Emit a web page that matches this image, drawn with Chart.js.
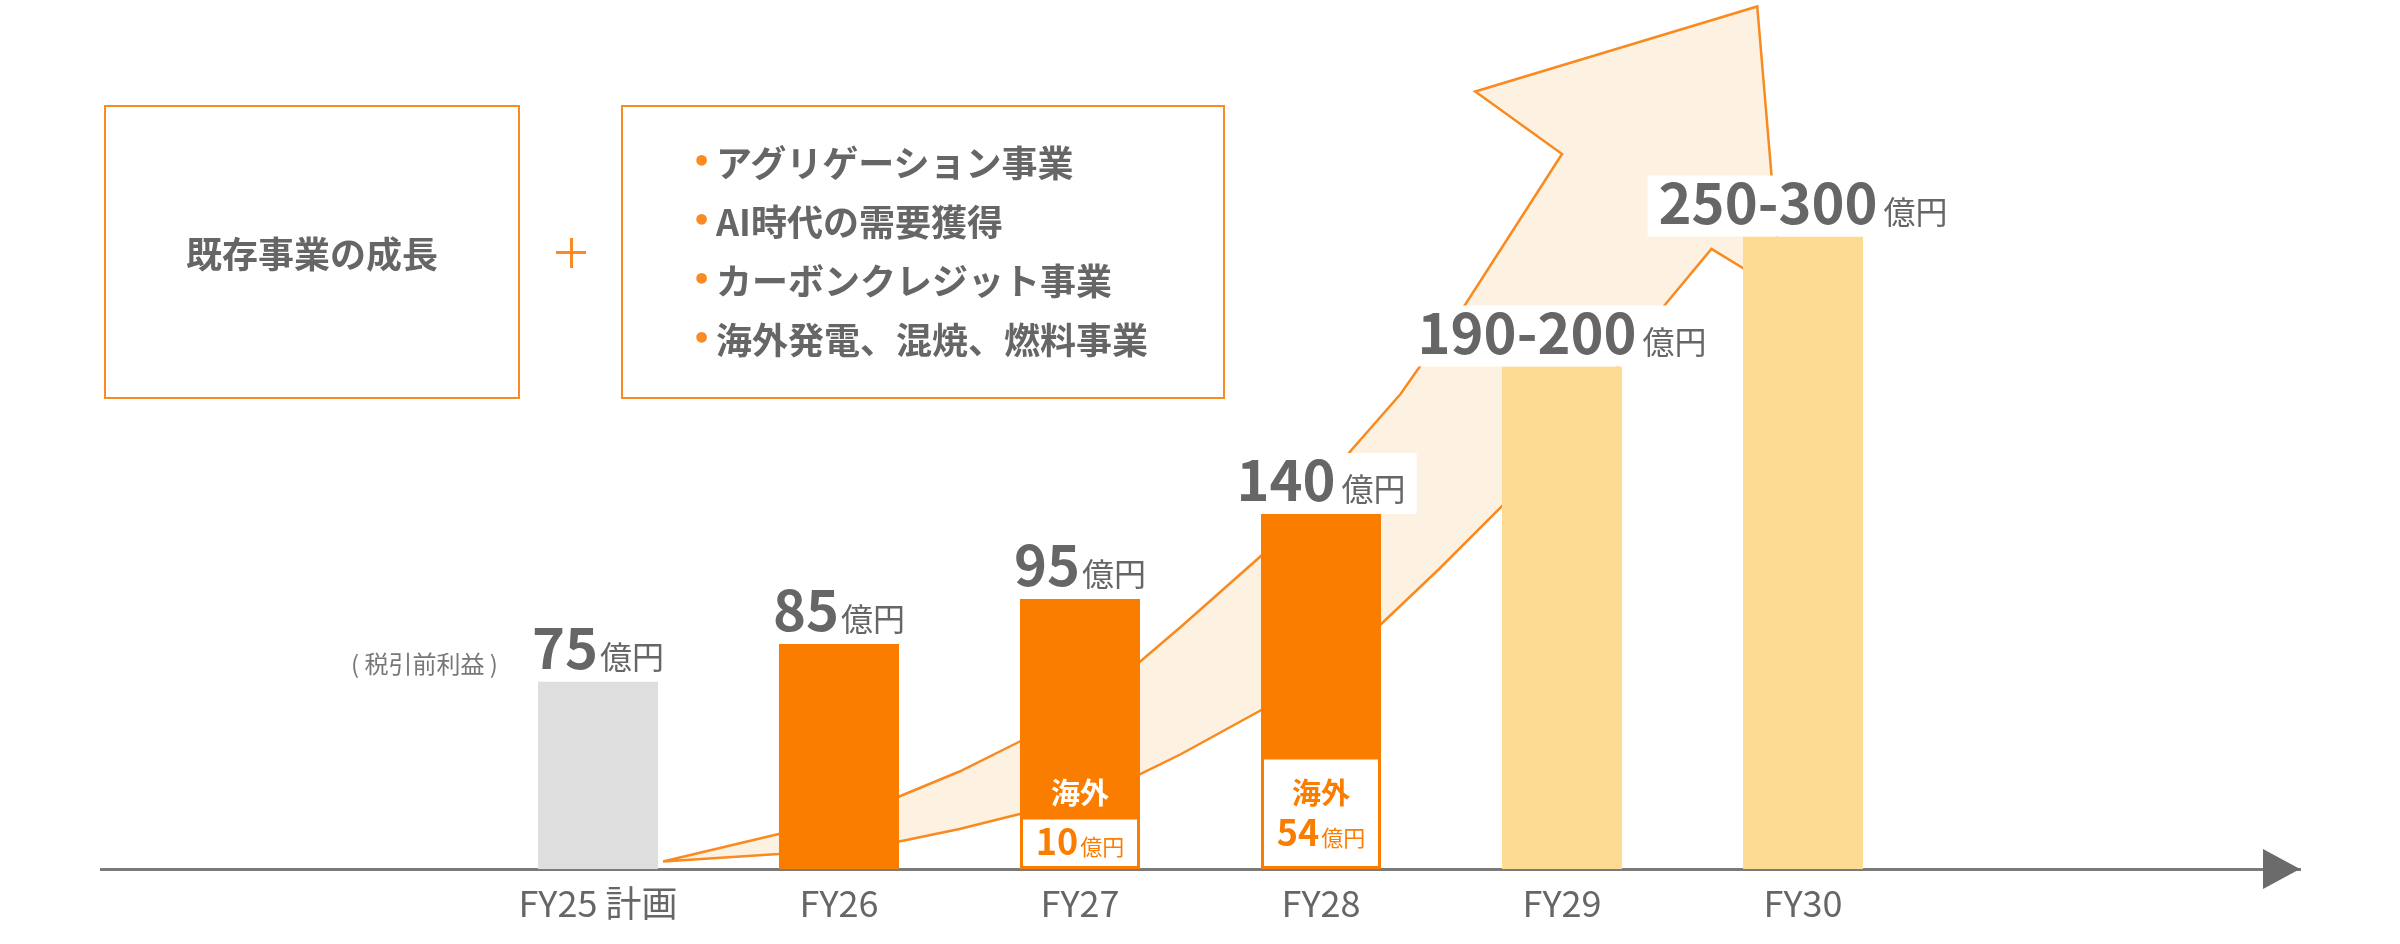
<!DOCTYPE html>
<html lang="ja">
<head>
    <meta charset="UTF-8">
    <title>税引前利益の成長イメージ</title>
    <script src="https://cdn.jsdelivr.net/npm/chart.js"></script>
    <style>
        body {
            margin: 0;
            background: #fff;
            font-family: 'Noto Sans CJK JP', 'Noto Sans', sans-serif;
        }
        .wrap {
            position: relative;
            width: 2400px;
            height: 944px;
        }
        #growthChart {
            position: absolute;
            left: 0;
            top: 0;
        }
        .box {
            position: absolute;
            top: 105px;
            height: 294px;
            border: 2px solid #f98b22;
            box-sizing: border-box;
            color: #666;
            font-weight: bold;
        }
        .box1 {
            left: 104px;
            width: 416px;
            display: flex;
            align-items: center;
            justify-content: center;
            font-size: 36px;
        }
        .box2 {
            left: 621px;
            width: 604px;
        }
        .box2 ul {
            list-style: none;
            margin: 0;
            padding: 0;
            position: absolute;
            top: 25px;
            left: 93px;
        }
        .box2 li {
            position: relative;
            font-size: 36px;
            line-height: 59px;
            white-space: nowrap;
        }
        .box2 li .dot {
            position: absolute;
            left: -24px;
            top: 0;
            color: #f98b22;
            font-size: 30px;
            font-family: 'DejaVu Sans', sans-serif;
        }
        .plus-h, .plus-v {
            position: absolute;
            background: #f98b22;
        }
        .plus-h { left: 556px; top: 251px; width: 30px; height: 3px; }
        .plus-v { left: 570px; top: 238px; width: 3px; height: 30px; }
    </style>
</head>
<body>
    <div class="wrap">
        <canvas id="growthChart" width="2400" height="944"></canvas>
        <div class="box box1">既存事業の成長</div>
        <div class="plus-h"></div>
        <div class="plus-v"></div>
        <div class="box box2">
            <ul>
                <li><span class="dot">•</span>アグリゲーション事業</li>
                <li><span class="dot">•</span>AI時代の需要獲得</li>
                <li><span class="dot">•</span>カーボンクレジット事業</li>
                <li><span class="dot">•</span>海外発電、混焼、燃料事業</li>
            </ul>
        </div>
    </div>

    <script>
        // データ (棒の高さは図から読み取った見た目の高さ、ラベルは図中の数値)
        const categories = ['FY25 計画', 'FY26', 'FY27', 'FY28', 'FY29', 'FY30'];
        const profitLabels = ['75', '85', '95', '140', '190-200', '250-300'];
        const barHeights = [75, 90, 108, 142, 201, 253];
        const overseasHeights = [null, null, 21, 45, null, null];
        const overseasLabels = [null, null, '10', '54', null, null];
        const unitLabel = '億円';
        const overseasName = '海外';
        const noteLabel = '( 税引前利益 )';

        // 成長矢印の輪郭 (x: 年度の位置, y: 棒と同じ単位)
        const arrowX = [0.27, 0.75, 1.25, 1.5, 1.75, 2.25, 2.42, 2.76, 3.13, 3.33, 3.41, 3.60, 4.00, 3.64, 4.81,
                        4.91, 4.62, 4.43, 4.23, 3.76, 3.49, 3.25, 2.76, 2.42, 2.25, 1.75, 1.5, 1.25, 0.75, 0.27];
        const arrowY = [3, 14, 29, 39, 51, 83, 97, 126, 168, 190, 201, 226, 286, 311, 345,
                        231, 248, 226, 201, 146, 120, 98, 64, 46, 38, 22, 16, 11, 6, 3];

        const FONT = "'Noto Sans CJK JP', 'Noto Sans', sans-serif";
        const GRAY = '#666666';
        const ORANGE = '#fa7d00';
        const barColors = ['#dedede', ORANGE, ORANGE, ORANGE, '#fddb93', '#fddb93'];

        Chart.defaults.font.family = FONT;

        // ラベルと軸の矢印
        const labelPlugin = {
            id: 'labelPlugin',
            afterDatasetsDraw(chart) {
                const {ctx, scales: {x, y}} = chart;
                ctx.save();
                ctx.textAlign = 'left';
                ctx.textBaseline = 'alphabetic';

                categories.forEach((c, i) => {
                    const cx = x.getPixelForValue(i);
                    const top = y.getPixelForValue(barHeights[i]);
                    ctx.font = 'bold 56px ' + FONT;
                    const nw = ctx.measureText(profitLabels[i]).width;
                    ctx.font = '32px ' + FONT;
                    const uw = ctx.measureText(unitLabel).width;
                    const gap = i < 3 ? 2 : 6;
                    const w = nw + gap + uw;
                    const left = cx - w / 2;
                    ctx.fillStyle = '#fff';
                    ctx.fillRect(left - 11, top - 61, w + 22, 61);
                    ctx.fillStyle = GRAY;
                    ctx.font = 'bold 56px ' + FONT;
                    ctx.fillText(profitLabels[i], left, top - 13);
                    ctx.font = '32px ' + FONT;
                    ctx.fillText(unitLabel, left + nw + gap, top - 13);
                });

                // 税引前利益
                const first = y.getPixelForValue(barHeights[0]);
                const firstLeft = x.getPixelForValue(0) - 60;
                ctx.font = '24px ' + FONT;
                ctx.fillStyle = '#777';
                ctx.textAlign = 'right';
                ctx.textBaseline = 'middle';
                ctx.fillText(noteLabel, firstLeft - 40, first - 18);

                // 海外
                overseasHeights.forEach((v, i) => {
                    if (v == null) return;
                    const cx = x.getPixelForValue(i);
                    const yt = y.getPixelForValue(v);
                    const yb = y.getPixelForValue(0);
                    const mid = (yt + yb) / 2;
                    const small = yb - yt < 80;
                    ctx.textAlign = 'center';
                    ctx.textBaseline = 'middle';
                    ctx.font = 'bold 29px ' + FONT;
                    ctx.fillStyle = small ? '#fff' : ORANGE;
                    ctx.fillText(overseasName, cx, small ? yt - 24 : yt + 36);

                    ctx.font = 'bold 36px ' + FONT;
                    const nw = ctx.measureText(overseasLabels[i]).width;
                    ctx.font = '22px ' + FONT;
                    const uw = ctx.measureText(unitLabel).width;
                    const left = cx - (nw + 2 + uw) / 2;
                    const base = small ? mid + 12 : mid + 33;
                    ctx.textAlign = 'left';
                    ctx.textBaseline = 'alphabetic';
                    ctx.fillStyle = ORANGE;
                    ctx.font = 'bold 36px ' + FONT;
                    ctx.fillText(overseasLabels[i], left, base);
                    ctx.font = '22px ' + FONT;
                    ctx.fillText(unitLabel, left + nw + 2, base);
                });

                // 軸の矢印
                const ay = y.getPixelForValue(0);
                const ax = x.right;
                ctx.fillStyle = '#6b6b6b';
                ctx.beginPath();
                ctx.moveTo(ax, ay);
                ctx.lineTo(ax - 37, ay - 20);
                ctx.lineTo(ax - 37, ay + 20);
                ctx.closePath();
                ctx.fill();
                ctx.restore();
            }
        };

        const ctx = document.getElementById('growthChart').getContext('2d');
        new Chart(ctx, {
            type: 'bar',
            data: {
                datasets: [{
                    label: '海外',
                    data: overseasHeights.map((v, i) => ({x: i, y: v})).filter(d => d.y != null),
                    backgroundColor: '#ffffff',
                    borderColor: ORANGE,
                    borderWidth: 3,
                    borderSkipped: false,
                    grouped: false,
                    categoryPercentage: 1,
                    barPercentage: 0.498,
                    order: 0
                }, {
                    label: '税引前利益',
                    data: barHeights.map((v, i) => ({x: i, y: v})),
                    backgroundColor: barColors,
                    borderWidth: 0,
                    grouped: false,
                    categoryPercentage: 1,
                    barPercentage: 0.498,
                    order: 1
                }, {
                    type: 'line',
                    label: '成長',
                    data: arrowX.map((v, i) => ({x: v, y: arrowY[i]})),
                    backgroundColor: '#fdf1e1',
                    borderColor: '#f98a1f',
                    borderWidth: 2.5,
                    borderJoinStyle: 'miter',
                    pointRadius: 0,
                    tension: 0,
                    fill: 'shape',
                    order: 2
                }]
            },
            options: {
                responsive: false,
                animation: false,
                events: [],
                layout: {
                    padding: {left: 101, right: 100, top: 0, bottom: 0}
                },
                plugins: {
                    legend: {display: false},
                    tooltip: {enabled: false}
                },
                scales: {
                    x: {
                        type: 'linear',
                        min: -2.062,
                        max: 7.062,
                        offset: false,
                        grid: {display: false, offset: false, drawTicks: false},
                        border: {display: true, color: '#7a7a7a', width: 3},
                        afterBuildTicks: (scale) => {
                            scale.ticks = categories.map((c, i) => ({value: i}));
                        },
                        afterFit: (scale) => {
                            scale.height = 75;
                        },
                        ticks: {
                            autoSkip: false,
                            maxRotation: 0,
                            padding: 13,
                            color: GRAY,
                            font: {size: 36},
                            callback: (v) => categories[v]
                        }
                    },
                    y: {
                        display: false,
                        min: 0,
                        max: 347.6
                    }
                }
            },
            plugins: [labelPlugin]
        });
    </script>
</body>
</html>
